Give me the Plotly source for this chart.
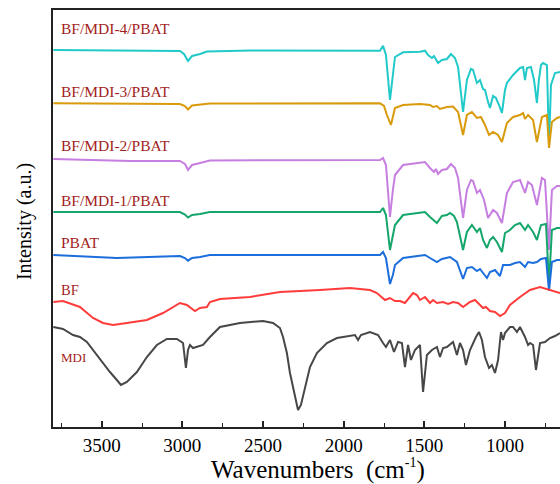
import plotly.graph_objects as go

# ---- data (wavenumber cm-1, intensity a.u.) ----
wn_mdi4 = [3800, 3325, 3015, 2990, 2965, 2940, 2890, 2848, 2580, 1775, 1756, 1738, 1713, 1695, 1682, 1632, 1527, 1496, 1477, 1453, 1440, 1415, 1391, 1360, 1335, 1310, 1291, 1260, 1236, 1211, 1198, 1174, 1155, 1136, 1124, 1105, 1093, 1074, 1056, 1037, 1019, 1000, 988, 950, 907, 888, 876, 864, 839, 820, 802, 790, 777, 764, 740, 727, 715, 690, 659]
i_mdi4 = [377, 376.5, 376, 373, 366, 371, 373, 375.5, 376.5, 376.3, 381.3, 372, 327, 352, 370, 374.7, 375.3, 376.3, 372, 369, 371, 364, 367, 368, 373, 369, 360, 315, 347, 358, 357, 344, 347, 338, 337, 325, 319, 331, 329, 322, 314, 337, 344, 352, 359, 360, 347, 359, 360, 347, 324, 347, 362, 364, 362, 282, 342, 354, 355]

wn_mdi3 = [3800, 3015, 2984, 2965, 2940, 2890, 2830, 1775, 1750, 1732, 1707, 1682, 1632, 1527, 1465, 1446, 1422, 1403, 1360, 1322, 1291, 1260, 1236, 1205, 1174, 1149, 1124, 1099, 1074, 1043, 1019, 988, 950, 907, 888, 876, 857, 826, 802, 771, 740, 727, 709, 678, 659]
i_mdi3 = [323.7, 323, 321, 317.5, 321.5, 322.5, 323.5, 323.7, 321, 312, 302, 319, 322, 323, 322, 320, 321, 318, 320, 320.5, 315, 292, 312, 315, 309, 310, 302, 292, 295, 292, 285, 304, 310, 312, 314, 308, 312, 307, 285, 310, 312, 279, 305, 309, 310]

wn_mdi2 = [3800, 3325, 3015, 2984, 2965, 2940, 2890, 2830, 1775, 1756, 1738, 1713, 1695, 1682, 1632, 1527, 1496, 1465, 1440, 1428, 1415, 1391, 1360, 1335, 1310, 1291, 1260, 1236, 1211, 1198, 1174, 1155, 1130, 1105, 1074, 1050, 1019, 988, 950, 907, 876, 857, 833, 802, 771, 752, 727, 709, 678, 659]
i_mdi2 = [268, 266, 266, 263, 257, 262, 264, 266.5, 267, 269, 262, 210, 237, 252, 262, 264, 265, 259, 255, 258, 253, 257, 258, 263, 259, 249, 209, 237, 247, 246, 234, 237, 227, 209, 217, 214, 204, 234, 245, 247, 234, 245, 242, 222, 249, 247, 177, 237, 241, 241]

wn_mdi1 = [3800, 3015, 2984, 2965, 2940, 2890, 2830, 1775, 1756, 1738, 1713, 1695, 1682, 1632, 1527, 1496, 1465, 1440, 1422, 1391, 1360, 1341, 1316, 1298, 1260, 1236, 1205, 1174, 1155, 1136, 1112, 1093, 1074, 1050, 1019, 1000, 969, 938, 907, 876, 857, 826, 802, 777, 746, 727, 709, 678, 659]
i_mdi1 = [215, 215, 212.5, 209.5, 212, 213, 215, 215, 219, 212, 177, 192, 202, 212, 214, 215, 210, 207, 204, 211, 212, 214, 211, 205, 177, 195, 202, 195, 199, 187, 179, 187, 190, 185, 175, 194, 197, 202, 204, 197, 202, 195, 187, 202, 203, 144, 197, 199, 199]

wn_pbat = [3800, 3406, 3015, 2984, 2965, 2940, 2890, 2830, 1775, 1756, 1738, 1713, 1695, 1682, 1632, 1527, 1496, 1465, 1422, 1391, 1341, 1298, 1260, 1236, 1205, 1174, 1155, 1136, 1112, 1093, 1062, 1031, 1012, 969, 938, 907, 876, 857, 826, 802, 777, 746, 727, 709, 678, 659]
i_pbat = [172, 169, 171, 169, 166.3, 169, 170, 172, 172, 175, 169, 143, 152, 162, 169, 171, 172, 169, 165, 168, 170, 165, 148, 159, 160, 156, 158, 154, 149, 155, 157, 151, 162, 162, 164, 165, 160, 165, 164, 165, 168, 169, 136, 165, 167, 167]

wn_bf = [3800, 3740, 3635, 3554, 3492, 3430, 3344, 3220, 3120, 3015, 2972, 2922, 2891, 2848, 2829, 2767, 2581, 2395, 2147, 1961, 1837, 1794, 1744, 1713, 1682, 1651, 1620, 1589, 1570, 1546, 1527, 1496, 1465, 1446, 1422, 1384, 1353, 1322, 1291, 1260, 1217, 1186, 1155, 1136, 1118, 1093, 1062, 1031, 1000, 969, 907, 845, 783, 721, 659]
i_bf = [125, 126, 120, 109, 104, 102, 104, 107, 114, 124, 122, 116, 119, 120, 125, 128, 130, 135, 137, 139, 137, 134, 127, 129, 126, 126, 124, 130, 134, 132, 127, 130, 124, 127, 124, 125, 123, 125, 124, 120, 125, 127, 122, 119, 120, 116, 115, 111, 114, 122, 130, 137, 140, 137, 134]

wn_mdi = [3800, 3740, 3678, 3635, 3592, 3554, 3511, 3449, 3406, 3381, 3344, 3282, 3220, 3158, 3096, 3034, 2996, 2978, 2965, 2953, 2934, 2910, 2872, 2829, 2767, 2643, 2500, 2438, 2395, 2376, 2352, 2333, 2308, 2283, 2265, 2240, 2209, 2166, 2104, 2042, 1980, 1930, 1911, 1893, 1837, 1787, 1756, 1738, 1713, 1688, 1663, 1639, 1620, 1601, 1583, 1558, 1527, 1508, 1484, 1453, 1422, 1403, 1384, 1360, 1322, 1298, 1279, 1260, 1242, 1217, 1180, 1161, 1143, 1124, 1099, 1081, 1062, 1043, 1025, 1012, 1000, 969, 950, 926, 907, 876, 857, 845, 826, 808, 783, 752, 721, 690, 659]
i_mdi = [100, 98, 92, 90, 85, 77, 67, 55, 47, 42, 45, 55, 70, 82, 88, 88, 84, 59, 77, 82, 79, 80, 82, 90, 100, 104, 106, 104, 99, 90, 74, 54, 34, 17, 22, 40, 60, 74, 84, 89, 91, 92, 87, 92, 95, 92, 84, 80, 87, 75, 85, 84, 60, 82, 67, 77, 82, 35, 72, 77, 80, 70, 79, 80, 85, 72, 84, 77, 62, 77, 90, 95, 87, 70, 59, 62, 54, 67, 95, 87, 94, 100, 100, 95, 100, 90, 82, 84, 82, 57, 84, 85, 89, 91, 94]

series = [
    ("BF/MDI-4/PBAT", wn_mdi4, i_mdi4, "#22C9C9"),
    ("BF/MDI-3/PBAT", wn_mdi3, i_mdi3, "#D99A0C"),
    ("BF/MDI-2/PBAT", wn_mdi2, i_mdi2, "#C67EE0"),
    ("BF/MDI-1/PBAT", wn_mdi1, i_mdi1, "#14A66A"),
    ("PBAT", wn_pbat, i_pbat, "#1B6EDC"),
    ("BF", wn_bf, i_bf, "#FF3C3C"),
    ("MDI", wn_mdi, i_mdi, "#474747"),
]

label_names = ["BF/MDI-4/PBAT", "BF/MDI-3/PBAT", "BF/MDI-2/PBAT", "BF/MDI-1/PBAT", "PBAT", "BF", "MDI"]
label_ypos = [0.9556, 0.8046, 0.675, 0.5432, 0.4424, 0.3297, 0.1667]
label_sizes = [15.5, 15.5, 15.5, 15.5, 15.5, 14.5, 13]

x_ticks = [3500, 3000, 2500, 2000, 1500, 1000]

fig = go.Figure()
for name, x, y, c in series:
    fig.add_trace(go.Scatter(x=x, y=y, mode="lines", name=name,
                             line=dict(color=c, width=2), showlegend=False))

serif = "Liberation Serif, Times New Roman, serif"
ann = []
for t, yp, s in zip(label_names, label_ypos, label_sizes):
    ann.append(dict(text=t, xref="paper", yref="paper", x=0.012, y=yp,
                    xanchor="left", yanchor="middle", showarrow=False,
                    font=dict(family=serif, size=s, color="#A31E22")))
ann.append(dict(text="Intensity (a.u.)", xref="paper", yref="paper", x=-0.057, y=0.4916,
                textangle=-90, xanchor="center", yanchor="middle", showarrow=False,
                font=dict(family=serif, size=20, color="#000")))
ann.append(dict(text="Wavenumbers&nbsp; (cm<sup><span style='font-size:14px'>-1</span></sup>)",
                xref="paper", yref="paper", x=0.5227, y=-0.103,
                xanchor="center", yanchor="middle", showarrow=False,
                font=dict(family=serif, size=25, color="#000")))

fig.update_layout(
    width=560, height=484,
    margin=dict(l=53, r=0, t=10, b=57),
    paper_bgcolor="white", plot_bgcolor="white",
    annotations=ann,
    xaxis=dict(range=[3802, 659], tickvals=x_ticks, ticktext=[str(v) for v in x_ticks],
               ticks="inside", ticklen=6, tickwidth=1.5, tickcolor="#222",
               minor=dict(dtick=250, tick0=0, ticks="inside", ticklen=4, tickwidth=1.2, tickcolor="#222"),
               showline=True, linecolor="#222", linewidth=2, mirror=True,
               showgrid=False, zeroline=False,
               tickfont=dict(family=serif, size=19, color="#000"),
               ticklabelstandoff=0),
    yaxis=dict(range=[0, 417], showticklabels=False, ticks="",
               showline=True, linecolor="#222", linewidth=2,
               showgrid=False, zeroline=False),
)

fig.write_html("out.html", config={"displayModeBar": False},
               post_script="document.body.style.margin='0';")
